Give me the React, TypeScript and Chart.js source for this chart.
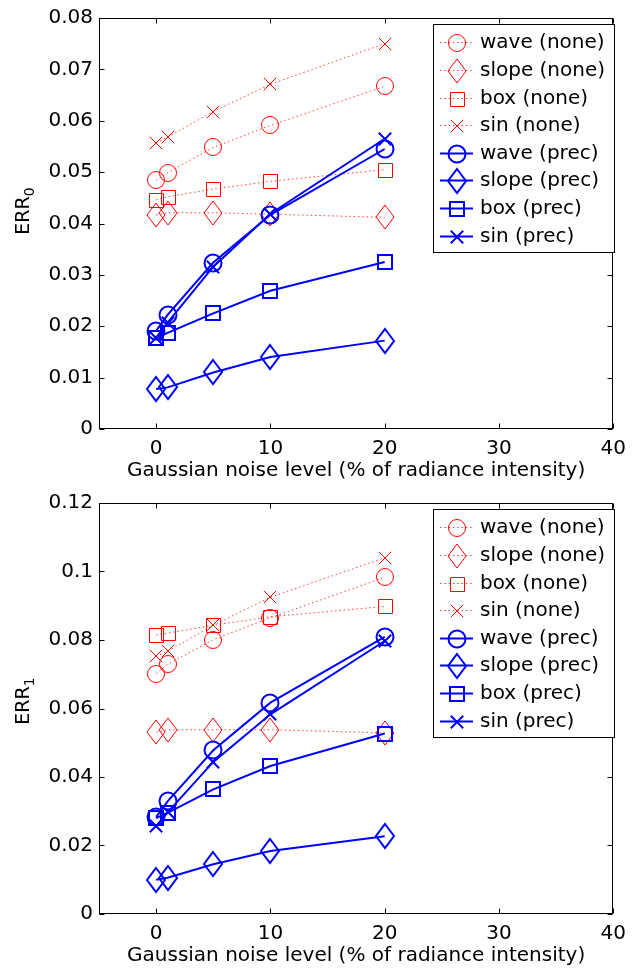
import React, { useEffect, useRef } from 'react';
import { Chart, registerables } from 'chart.js';

Chart.register(...registerables);

// ---------- data ----------
const noiseLevels = [0, 1, 5, 10, 20];
const xTickValues = [0, 10, 20, 30, 40];
const yTickValues0 = [0, 0.01, 0.02, 0.03, 0.04, 0.05, 0.06, 0.07, 0.08];
const yTickValues1 = [0, 0.02, 0.04, 0.06, 0.08, 0.1, 0.12];
const seriesLabels = [
  'wave (none)', 'slope (none)', 'box (none)', 'sin (none)',
  'wave (prec)', 'slope (prec)', 'box (prec)', 'sin (prec)',
];
const xTitle = 'Gaussian noise level (% of radiance intensity)';

const err0WaveNone = [0.0484, 0.0499, 0.0548, 0.0591, 0.0667];
const err0SlopeNone = [0.0417, 0.0421, 0.0421, 0.0418, 0.0412];
const err0BoxNone = [0.0446, 0.0452, 0.0467, 0.0482, 0.0505];
const err0SinNone = [0.0557, 0.0568, 0.0618, 0.0671, 0.075];
const err0WavePrec = [0.0191, 0.0222, 0.0324, 0.0417, 0.0545];
const err0SlopePrec = [0.0078, 0.0081, 0.011, 0.014, 0.0172];
const err0BoxPrec = [0.0177, 0.0187, 0.0225, 0.0269, 0.0325];
const err0SinPrec = [0.0178, 0.0207, 0.0316, 0.0419, 0.0565];

const err1WaveNone = [0.0702, 0.0729, 0.0801, 0.0865, 0.0983];
const err1SlopeNone = [0.0531, 0.0538, 0.0538, 0.0538, 0.0529];
const err1BoxNone = [0.0815, 0.082, 0.0843, 0.0868, 0.0898];
const err1SinNone = [0.0752, 0.0767, 0.0843, 0.0925, 0.104];
const err1WavePrec = [0.0283, 0.0329, 0.0478, 0.0617, 0.0809];
const err1SlopePrec = [0.01, 0.0106, 0.0145, 0.0184, 0.0227];
const err1BoxPrec = [0.028, 0.0295, 0.0364, 0.0432, 0.0527];
const err1SinPrec = [0.0256, 0.0297, 0.0444, 0.0583, 0.0797];

const FONT = '"DejaVu Sans", "Liberation Sans", sans-serif';
const RED = '#ff0000';
const BLUE = '#0000ff';

type Shape = 'circle' | 'diamond' | 'square' | 'x';
const shapes: Shape[] = ['circle', 'diamond', 'square', 'x'];

function makeMarker(shape: Shape, color: string, lw: number): HTMLCanvasElement {
  const c = document.createElement('canvas');
  let w = 22, h = 22;
  if (shape === 'diamond') { w = 24; h = 30; }
  if (shape === 'square') { w = 20; h = 20; }
  if (shape === 'x') { w = 18; h = 18; }
  c.width = w; c.height = h;
  const ctx = c.getContext('2d')!;
  ctx.strokeStyle = color;
  ctx.lineWidth = lw;
  const off = lw % 2 === 1 ? 0.5 : 0;
  const cx = w / 2, cy = h / 2;
  ctx.beginPath();
  if (shape === 'circle') {
    ctx.arc(cx, cy, 8.5, 0, Math.PI * 2);
  } else if (shape === 'diamond') {
    ctx.moveTo(cx, cy - 12);
    ctx.lineTo(cx + 9, cy);
    ctx.lineTo(cx, cy + 12);
    ctx.lineTo(cx - 9, cy);
    ctx.closePath();
  } else if (shape === 'square') {
    ctx.rect(cx - 7 + off, cy - 7 + off, 14, 14);
  } else {
    const d = 6.2;
    ctx.moveTo(cx - d, cy - d); ctx.lineTo(cx + d, cy + d);
    ctx.moveTo(cx + d, cy - d); ctx.lineTo(cx - d, cy + d);
  }
  ctx.stroke();
  return c;
}

const matlabPlugin = {
  id: 'matlabAxes',
  beforeDatasetsDraw(chart: any) {
    chart.ctx.imageSmoothingEnabled = false;
  },
  afterDatasetsDraw(chart: any) {
    chart.ctx.imageSmoothingEnabled = true;
  },
  afterDraw(chart: any, _args: any, opts: any) {
    const ctx: CanvasRenderingContext2D = chart.ctx;
    const a = chart.chartArea;
    const xs = chart.scales.x;
    const ys = chart.scales.y;
    ctx.save();
    ctx.strokeStyle = '#000';
    ctx.lineWidth = 1;
    ctx.setLineDash([]);
    const L = Math.round(a.left) + 0.5;
    const R = Math.round(a.right) - 0.5;
    const T = Math.round(a.top) + 0.5;
    const B = Math.round(a.bottom) - 0.5;
    ctx.strokeRect(L, T, R - L, B - T);
    ctx.beginPath();
    const tl = 5;
    xs.ticks.forEach((t: any) => {
      const px = Math.round(xs.getPixelForValue(t.value)) + 0.5;
      ctx.moveTo(px, B); ctx.lineTo(px, B - tl);
      ctx.moveTo(px, T); ctx.lineTo(px, T + tl);
    });
    ys.ticks.forEach((t: any) => {
      const py = Math.round(ys.getPixelForValue(t.value)) + 0.5;
      ctx.moveTo(L, py); ctx.lineTo(L + tl, py);
      ctx.moveTo(R, py); ctx.lineTo(R - tl, py);
    });
    ctx.stroke();

    // x title
    ctx.fillStyle = '#000';
    ctx.font = `20px ${FONT}`;
    ctx.textAlign = 'center';
    ctx.textBaseline = 'alphabetic';
    ctx.fillText(opts.xTitle, (a.left + a.right) / 2, 476);

    // y title with subscript
    ctx.save();
    ctx.translate(29, opts.yLabelCenter);
    ctx.rotate(-Math.PI / 2);
    ctx.textAlign = 'left';
    const mainFont = `19px ${FONT}`;
    const subFont = `14px ${FONT}`;
    ctx.font = mainFont;
    const w1 = ctx.measureText('ERR').width;
    ctx.font = subFont;
    const w2 = ctx.measureText(opts.sub).width;
    const start = -(w1 + w2) / 2;
    ctx.font = mainFont;
    ctx.fillText('ERR', start, 0);
    ctx.font = subFont;
    ctx.fillText(opts.sub, start + w1, 5);
    ctx.restore();

    // legend
    const bl = 433, br = 614;
    const bt = Math.round(a.top) + 6;
    const bb = bt + 228;
    ctx.fillStyle = '#fff';
    ctx.fillRect(bl, bt, br - bl, bb - bt);
    ctx.strokeStyle = '#000';
    ctx.lineWidth = 1;
    ctx.strokeRect(bl + 0.5, bt + 0.5, br - bl, bb - bt);
    const ds = chart.data.datasets;
    ds.forEach((d: any, i: number) => {
      const y = Math.round(bt + 18.3 + i * 27.6) + 0.5;
      ctx.beginPath();
      ctx.strokeStyle = d.borderColor;
      ctx.lineWidth = d.borderWidth;
      ctx.setLineDash(d.borderDash || []);
      ctx.moveTo(440, y);
      ctx.lineTo(473, y);
      ctx.stroke();
      ctx.setLineDash([]);
      const img: HTMLCanvasElement = d.pointStyle;
      ctx.drawImage(img, Math.round(457 - img.width / 2), Math.round(y - img.height / 2));
      ctx.fillStyle = '#000';
      ctx.font = `20px ${FONT}`;
      ctx.textAlign = 'left';
      ctx.textBaseline = 'middle';
      ctx.fillText(d.label, 480, y);
    });
    ctx.restore();
  },
};

function fmt(v: number) {
  return String(Number(v.toFixed(4)));
}

interface PanelProps {
  series: number[][];
  yTicks: number[];
  yMax: number;
  sub: string;
  yLabelCenter: number;
  padTop: number;
}

function Panel({ series, yTicks, yMax, sub, yLabelCenter, padTop }: PanelProps) {
  const ref = useRef<HTMLCanvasElement>(null);
  useEffect(() => {
    if (!ref.current) return;
    const datasets = series.map((vals, i) => {
      const prec = i >= 4;
      const color = prec ? BLUE : RED;
      const lw = prec ? 2 : 1;
      const img = makeMarker(shapes[i % 4], color, lw);
      return {
        label: seriesLabels[i],
        data: noiseLevels.map((x, k) => ({ x, y: vals[k] })),
        borderColor: prec ? BLUE : 'rgba(255,0,0,0.75)',
        borderWidth: lw,
        borderDash: prec ? [] : [1.5, 2.8],
        pointStyle: img,
        pointRadius: 8,
        pointHoverRadius: 8,
        fill: false,
        tension: 0,
        order: prec ? 1 : 2,
      };
    });
    const chart = new Chart(ref.current, {
      type: 'line',
      data: { datasets },
      options: {
        animation: false,
        responsive: false,
        devicePixelRatio: 1,
        events: [],
        layout: { padding: { left: 0, right: 14, top: padTop, bottom: 0 } },
        plugins: {
          legend: { display: false },
          tooltip: { enabled: false },
          matlabAxes: { xTitle, sub, yLabelCenter },
        } as any,
        scales: {
          x: {
            type: 'linear',
            min: -5,
            max: 40,
            grid: { display: false, drawTicks: false },
            border: { display: false },
            afterBuildTicks: (s: any) => { s.ticks = xTickValues.map((v) => ({ value: v })); },
            afterFit: (s: any) => { s.height = 56; },
            ticks: {
              color: '#000',
              font: { family: FONT, size: 20 },
              padding: 8,
              maxRotation: 0,
              autoSkip: false,
              callback: (v: any) => fmt(Number(v)),
            },
          },
          y: {
            type: 'linear',
            min: 0,
            max: yMax,
            grid: { display: false, drawTicks: false },
            border: { display: false },
            afterBuildTicks: (s: any) => { s.ticks = yTicks.map((v) => ({ value: v })); },
            afterFit: (s: any) => { s.width = 99; },
            ticks: {
              color: '#000',
              font: { family: FONT, size: 20 },
              padding: 6,
              autoSkip: false,
              callback: (v: any) => fmt(Number(v)),
            },
          },
        },
      } as any,
      plugins: [matlabPlugin],
    });
    return () => chart.destroy();
  }, []);
  return (
    <canvas
      ref={ref}
      width={634}
      height={485}
      style={{ display: 'block', width: 634, height: 485 }}
    />
  );
}

export default function App() {
  return (
    <div style={{ position: 'absolute', left: 0, top: 0, width: 634, height: 971, overflow: 'hidden', background: '#fff' }}>
      <Panel
        series={[err0WaveNone, err0SlopeNone, err0BoxNone, err0SinNone, err0WavePrec, err0SlopePrec, err0BoxPrec, err0SinPrec]}
        yTicks={yTickValues0}
        yMax={0.08}
        sub="0"
        yLabelCenter={211}
        padTop={15}
      />
      <Panel
        series={[err1WaveNone, err1SlopeNone, err1BoxNone, err1SinNone, err1WavePrec, err1SlopePrec, err1BoxPrec, err1SinPrec]}
        yTicks={yTickValues1}
        yMax={0.12}
        sub="1"
        yLabelCenter={216}
        padTop={16}
      />
    </div>
  );
}
